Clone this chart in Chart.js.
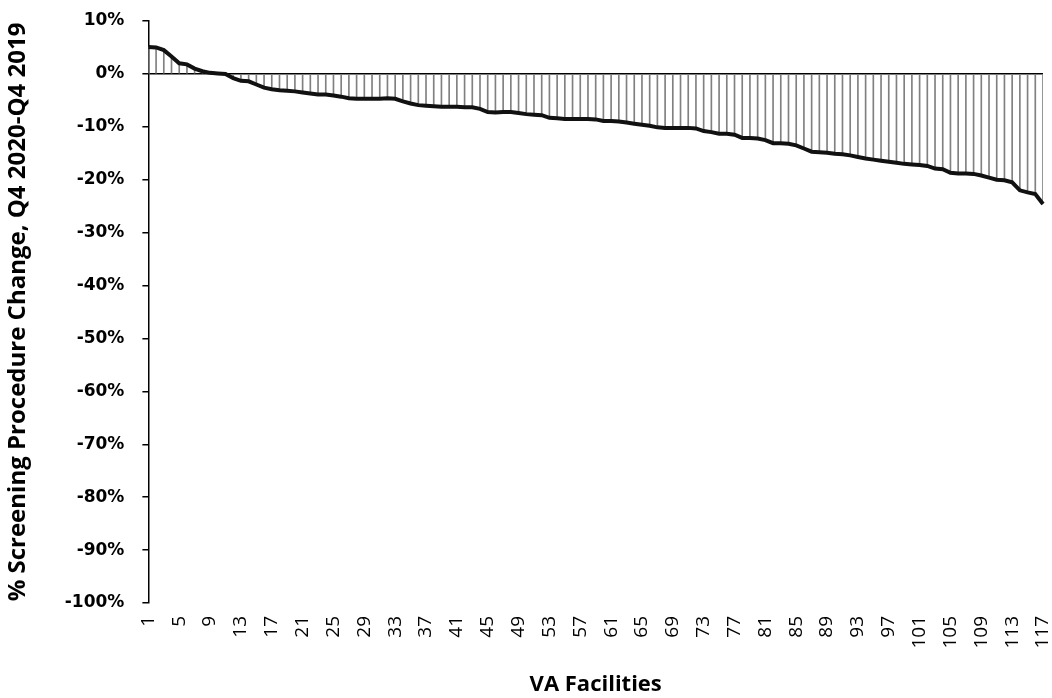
<!DOCTYPE html>
<html lang="en">
<head>
  <meta charset="UTF-8">
  <title>% Screening Procedure Change by VA Facility</title>
  <script src="https://cdn.jsdelivr.net/npm/chart.js"></script>
  <style>
    html, body { margin: 0; padding: 0; background: #ffffff; }
    .wrap { width: 1052px; height: 698px; position: relative; }
  </style>
</head>
<body>
  <div class="wrap"><canvas id="chart"></canvas></div>

  <script>
    // facility ranks (category labels)
    const facilities = [
      '1','2','3','4','5','6','7','8','9','10','11','12','13','14','15','16','17','18','19','20',
      '21','22','23','24','25','26','27','28','29','30','31','32','33','34','35','36','37','38','39','40',
      '41','42','43','44','45','46','47','48','49','50','51','52','53','54','55','56','57','58','59','60',
      '61','62','63','64','65','66','67','68','69','70','71','72','73','74','75','76','77','78','79','80',
      '81','82','83','84','85','86','87','88','89','90','91','92','93','94','95','96','97','98','99','100',
      '101','102','103','104','105','106','107','108','109','110','111','112','113','114','115','116','117'
    ];

    // % change Q4 2020 vs Q4 2019
    const pctChange = [
      5.1, 5.0, 4.5, 3.3, 2.0, 1.8, 1.0, 0.5, 0.2, 0.1,
      0.0, -0.8, -1.3, -1.4, -2.0, -2.6, -2.9, -3.1, -3.2, -3.3,
      -3.5, -3.7, -3.9, -3.9, -4.1, -4.3, -4.6, -4.7, -4.7, -4.7,
      -4.7, -4.6, -4.7, -5.2, -5.6, -5.9, -6.0, -6.1, -6.2, -6.2,
      -6.2, -6.3, -6.3, -6.6, -7.2, -7.3, -7.2, -7.2, -7.4, -7.6,
      -7.7, -7.8, -8.3, -8.4, -8.5, -8.5, -8.5, -8.5, -8.6, -8.9,
      -8.9, -9.0, -9.2, -9.4, -9.6, -9.8, -10.1, -10.2, -10.2, -10.2,
      -10.2, -10.3, -10.8, -11.0, -11.3, -11.3, -11.5, -12.1, -12.1, -12.2,
      -12.5, -13.1, -13.1, -13.2, -13.5, -14.1, -14.7, -14.8, -14.9, -15.1,
      -15.2, -15.4, -15.7, -16.0, -16.2, -16.4, -16.6, -16.8, -17.0, -17.1,
      -17.2, -17.4, -17.9, -18.0, -18.7, -18.8, -18.8, -18.9, -19.2, -19.6,
      -20.0, -20.1, -20.5, -22.0, -22.4, -22.7, -24.6
    ];

    const yTicks = { min: -100, max: 10, step: 10 };
    const labelEvery = 4;

    new Chart(document.getElementById('chart'), {
      data: {
        labels: facilities,
        datasets: [
          { type: 'line', data: pctChange, borderColor: '#111111', borderWidth: 4, pointRadius: 0, tension: 0, order: 1 },
          { type: 'bar', data: pctChange, backgroundColor: '#808080', barThickness: 1, order: 2 }
        ]
      },
      options: {
        responsive: true,
        maintainAspectRatio: false,
        animation: false,
        layout: { padding: { top: 0, right: 0, bottom: 0, left: 4 } },
        plugins: { legend: { display: false }, tooltip: { enabled: false } },
        scales: {
          x: {
            offset: false,
            afterFit: s => { s.paddingRight = 9; },
            grid: { display: false },
            border: { display: false },
            ticks: {
              autoSkip: false, maxRotation: 90, minRotation: 90, padding: 5,
              color: '#000', font: { family: 'Open Sans', size: 19 },
              callback: (v, i) => i % labelEvery === 0 ? facilities[i] : null
            },
            title: {
              display: true, text: 'VA Facilities', color: '#000',
              font: { family: 'Open Sans', size: 22, weight: 'bold' }, padding: { top: 18, bottom: 0 }
            }
          },
          y: {
            min: yTicks.min, max: yTicks.max,
            afterFit: s => { s.paddingTop = 21; s.paddingBottom = 0; },
            grid: {
              color: c => c.tick && c.tick.value === 0 ? '#000' : 'rgba(0,0,0,0)',
              lineWidth: 1.5, tickColor: '#000', tickLength: 6, tickWidth: 1.5
            },
            border: { display: true, color: '#000', width: 1.5 },
            ticks: {
              stepSize: yTicks.step, padding: 18, color: '#000',
              font: { family: 'DejaVu Sans', size: 17, weight: 'bold' },
              callback: v => v + '%'
            },
            title: {
              display: true, text: '% Screening Procedure Change, Q4 2020-Q4 2019', color: '#000',
              font: { family: 'Open Sans', size: 24, weight: 'bold' }, padding: { top: 0, bottom: 14 }
            }
          }
        }
      }
    });
  </script>
</body>
</html>
